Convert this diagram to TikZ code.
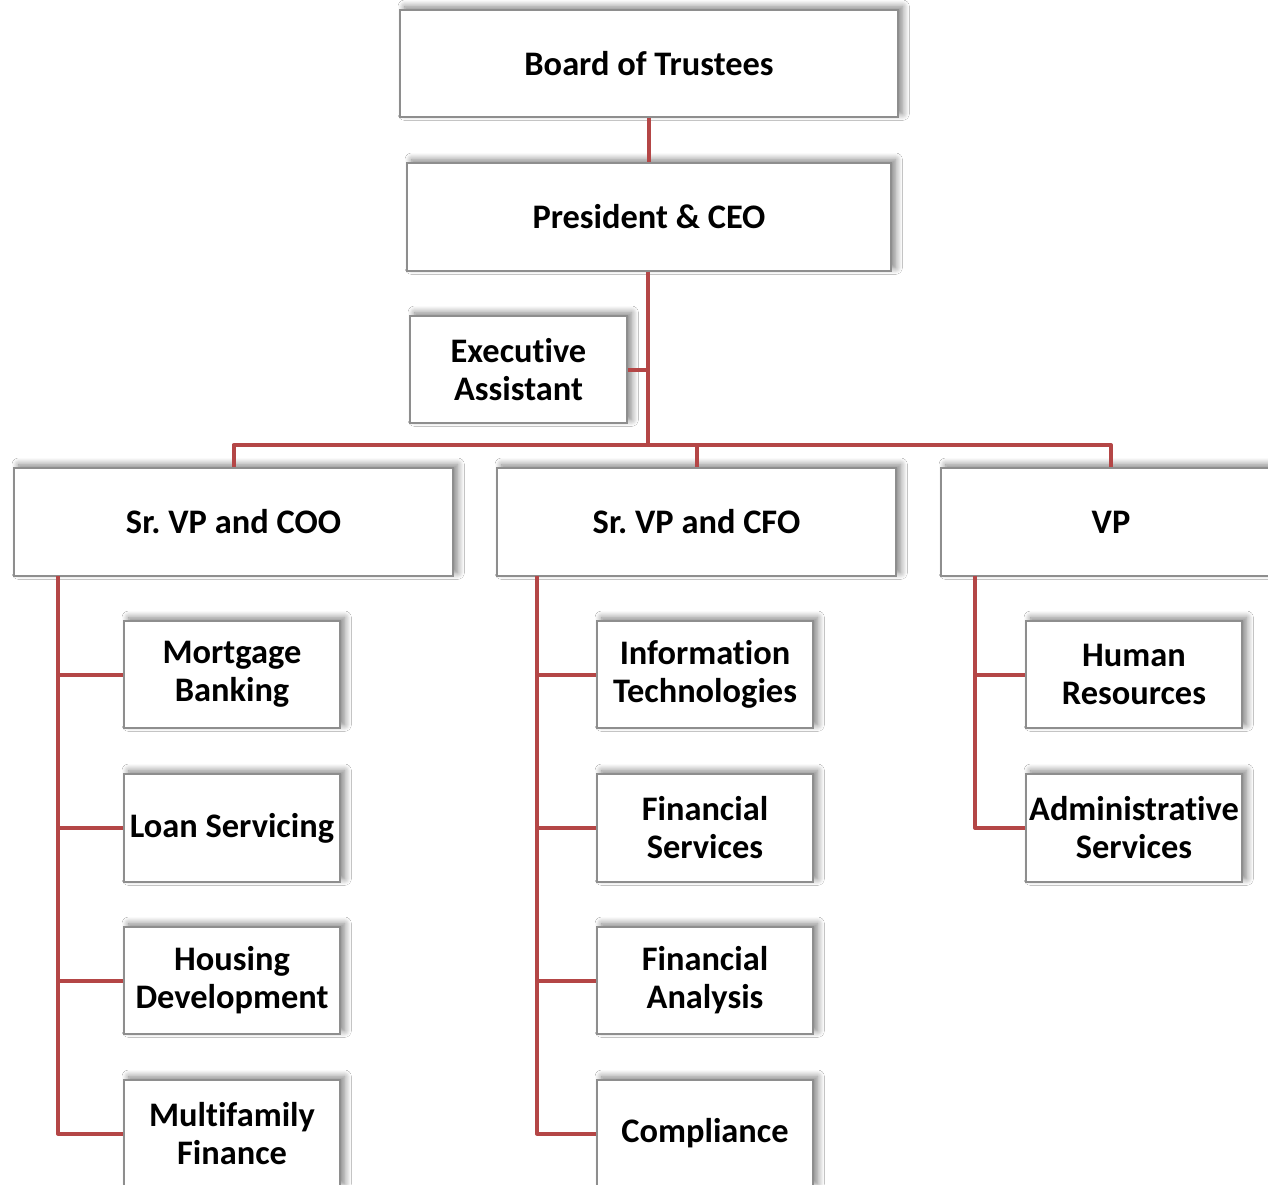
\documentclass[tikz,border=0pt]{standalone}
\usepackage{fontspec}
\setmainfont{Carlito}[Ligatures=NoCommon]
\usetikzlibrary{shadows.blur}
\definecolor{linkred}{HTML}{B44646}
\definecolor{boxgray}{HTML}{8E8E8E}
\def\u{0.75pt}
\frenchspacing
\begin{document}
\begin{tikzpicture}[x=0.75pt,y=-0.75pt,
  box/.style={draw=boxgray, line width=1.1pt, fill=white, inner sep=0pt, align=center,
    font=\fontsize{25.8}{28.5}\selectfont\bfseries,
    blur shadow={shadow xshift=3.5pt, shadow yshift=2.5pt, shadow opacity=50, shadow blur radius=5pt, shadow blur steps=10}},
  conn/.style={draw=linkred, line width=3pt, line join=round}]
\useasboundingbox (0,0) rectangle (1268,1185);
\clip (0,0) rectangle (1268,1185);
\fill[white] (0,0) rectangle (1268,1185);
\coordinate (bar) at (648,445);
\coordinate (cootr) at (58,576);
\coordinate (cfotr) at (537,576);
\coordinate (vptr) at (975,576);
\node[box, minimum width=498*\u, minimum height=107*\u] (board) at (649,63.5) {Board of Trustees};
\node[box, minimum width=484*\u, minimum height=108*\u] (pres) at (649,217) {President \& CEO};
\node[box, minimum width=217*\u, minimum height=107*\u] (ea) at (518.5,369.5) {Executive\\Assistant};
\node[box, minimum width=439*\u, minimum height=108*\u] (coo) at (233.5,522) {Sr. VP and COO};
\node[box, minimum width=399*\u, minimum height=108*\u] (cfo) at (696.5,522) {Sr. VP and CFO};
\node[box, minimum width=340*\u, minimum height=108*\u] (vp) at (1111,522) {VP};
% COO children
\node[box, minimum width=216*\u, minimum height=107*\u] (mb) at (232,674.5) {Mortgage\\Banking};
\node[box, minimum width=216*\u, minimum height=108*\u] (ls) at (232,828) {Loan Servicing};
\node[box, minimum width=216*\u, minimum height=107*\u] (hd) at (232,980.5) {Housing\\Development};
\node[box, minimum width=216*\u, minimum height=107*\u] (mf) at (232,1133.5) {Multifamily\\Finance};
% CFO children
\node[box, minimum width=216*\u, minimum height=107*\u] (it) at (705,674.5) {Information\\Technologies};
\node[box, minimum width=216*\u, minimum height=108*\u] (fs) at (705,828) {Financial\\Services};
\node[box, minimum width=216*\u, minimum height=107*\u] (fa) at (705,980.5) {Financial\\Analysis};
\node[box, minimum width=216*\u, minimum height=107*\u] (co) at (705,1133.5) {Compliance};
% VP children
\node[box, minimum width=216*\u, minimum height=107*\u] (hr) at (1134,674.5) {Human\\Resources};
\node[box, minimum width=216*\u, minimum height=108*\u] (as) at (1134,828) {Administrative\\Services};
% connectors
\draw[conn] (board.south) -- (pres.north);
\draw[conn] (pres.south -| bar) -- (bar);
\draw[conn] (ea.east) -- (ea.east -| bar);
\draw[conn] (bar) -| (coo.north);
\draw[conn] (bar) -| (cfo.north);
\draw[conn] (bar) -| (vp.north);
\draw[conn] (cootr) |- (mb.west);
\draw[conn] (cootr) |- (ls.west);
\draw[conn] (cootr) |- (hd.west);
\draw[conn] (cootr) |- (mf.west);
\draw[conn] (cfotr) |- (it.west);
\draw[conn] (cfotr) |- (fs.west);
\draw[conn] (cfotr) |- (fa.west);
\draw[conn] (cfotr) |- (co.west);
\draw[conn] (vptr) |- (hr.west);
\draw[conn] (vptr) |- (as.west);
\end{tikzpicture}
\end{document}
